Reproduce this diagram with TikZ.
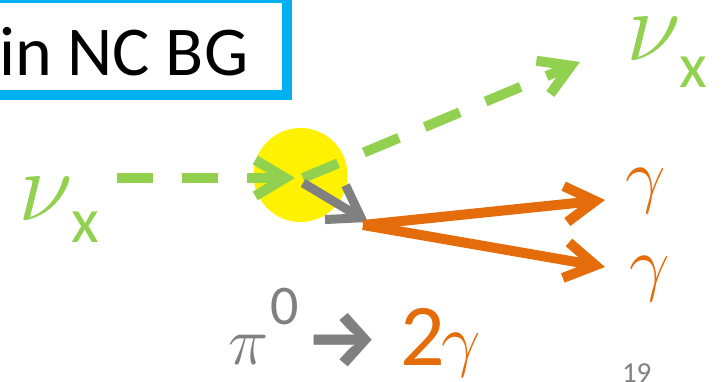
\RequirePackage{fix-cm}
\documentclass[tikz,border=0pt]{standalone}
\usepackage[no-math]{fontspec}
\setmainfont{Carlito}
\newfontfamily\arrowfont{Fira Sans}
\usetikzlibrary{arrows.meta}
\definecolor{nugreen}{HTML}{92D050}
\definecolor{piorange}{HTML}{E46C0A}
\definecolor{boxblue}{HTML}{00B0F0}
\definecolor{pgray}{HTML}{808080}
\begin{document}
\begin{tikzpicture}[x=1pt,y=-1pt,
  every node/.style={inner sep=0pt, outer sep=0pt},
  lbl/.style={anchor=base west},
  nuline/.style={draw=nugreen, line width=10pt, dash pattern=on 36pt off 29pt,
    -{Straight Barb[length=30pt,width=36pt]}},
  piline/.style={draw=pgray, line width=9pt, -{Straight Barb[length=30pt,width=40pt]}},
  gamline/.style={draw=piorange, line width=10pt, -{Straight Barb[length=30pt,width=36pt]}}]
\useasboundingbox (0,0) rectangle (721,382);
% title box
\draw[boxblue, line width=10pt] (-20,-2) rectangle (286.5,95);
\node[lbl, font=\fontsize{70}{84}\selectfont] (title) at (-1,76) {in NC BG};
% vertex
\node[circle, fill=yellow, minimum size=94pt] (vertex) at (300.5,175) {};
% coordinates
\coordinate (nuinStart) at (117,178);
\coordinate (nuinEnd) at (295,178);
\coordinate (nuoutStart) at (303,178);
\coordinate (nuoutEnd) at (580,62);
\coordinate (piStart) at (303,183);
\coordinate (piEnd) at (368,222);
\coordinate (gamStart) at (363,225);
\coordinate (gamTopEnd) at (605,200);
\coordinate (gamBotEnd) at (605,267);
% lines
\draw[nuline] (nuinStart) -- (nuinEnd);
\draw[nuline, dash pattern=on 38pt off 28pt] (nuoutStart) -- (nuoutEnd);
\draw[piline] (piStart) -- (piEnd);
\draw[gamline] (gamStart) -- (gamTopEnd);
\draw[gamline] (gamStart) -- (gamBotEnd);
% labels
\node[lbl, text=nugreen, font=\fontsize{100}{110}\selectfont] (nuin) at (18,221) {$\nu$};
\node[lbl, text=nugreen, font=\fontsize{64}{70}\selectfont] (xin) at (71,243) {x};
\node[lbl, text=nugreen, font=\fontsize{100}{110}\selectfont] (nuout) at (626,61) {$\nu$};
\node[lbl, text=nugreen, font=\fontsize{64}{70}\selectfont] (xout) at (679,88) {x};
\node[lbl, text=piorange, font=\fontsize{72}{80}\selectfont] (gamtop) at (625,200) {$\gamma$};
\node[lbl, text=piorange, font=\fontsize{72}{80}\selectfont] (gambot) at (629,288) {$\gamma$};
% decay formula
\node[lbl, text=pgray, font=\fontsize{68}{80}\selectfont] (pi) at (228,365) {$\pi$};
\node[lbl, text=pgray, font=\fontsize{56}{66}\selectfont] (zero) at (270,325) {0};
\node[text=pgray, font=\fontsize{80}{84}\selectfont\arrowfont\bfseries] (decarrow) at (342,340) {→};
\node[lbl, text=piorange, font=\fontsize{88}{92}\selectfont] (two) at (400,366) {2};
\node[lbl, text=piorange, font=\fontsize{70}{84}\selectfont] (gam) at (441,363) {$\gamma$};
\node[lbl, text=pgray, font=\fontsize{29}{34}\selectfont] (page) at (622,382) {19};
\end{tikzpicture}
\end{document}
